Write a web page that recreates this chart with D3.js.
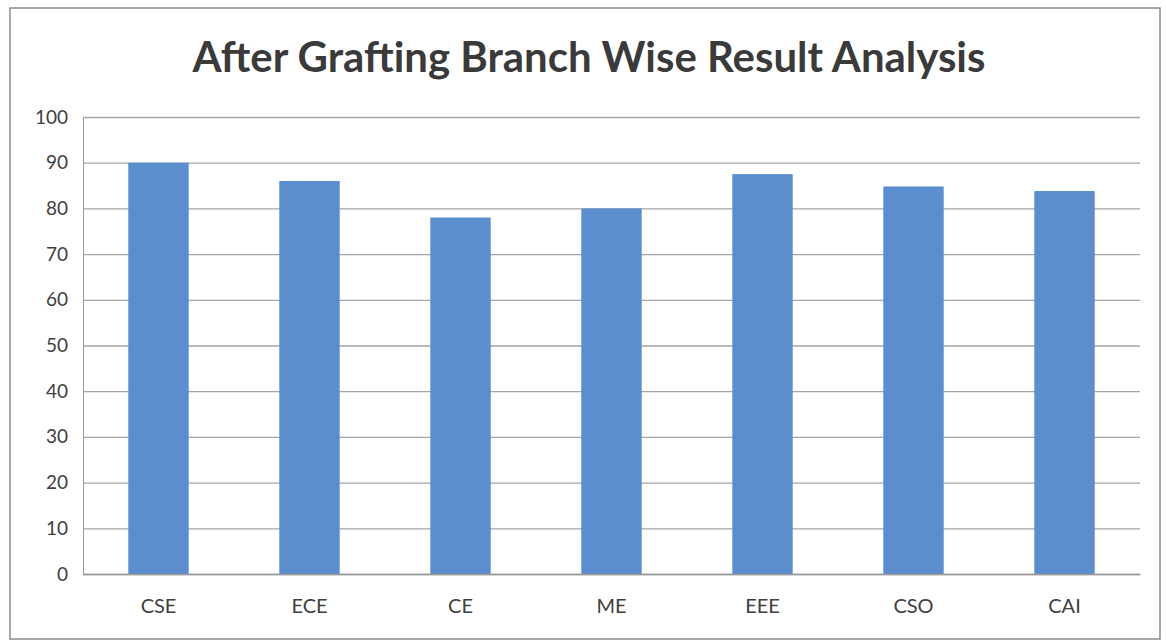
<!DOCTYPE html>
<html><head><meta charset="utf-8">
<script src="https://cdn.jsdelivr.net/npm/d3@7/dist/d3.min.js"></script>
<style>body{margin:0;background:#fff}svg{display:block}</style>
</head><body>
<svg id="c" width="1166" height="642"></svg>
<script>
const categories = ["CSE","ECE","CE","ME","EEE","CSO","CAI"];
const values = [90, 86, 78, 80, 87.5, 84.8, 83.8];
const yTicks = [0,10,20,30,40,50,60,70,80,90,100];
const title = "After Grafting Branch Wise Result Analysis";

const svg = d3.select("#c");
const m = {left: 83, right: 1140, top: 117, bottom: 574};

svg.append("rect").attr("x",10).attr("y",8).attr("width",1150).attr("height",631)
  .attr("fill","#fff").attr("stroke","#8a8a8a").attr("stroke-width",1.5);

const x = d3.scaleBand().domain(categories).range([m.left, m.right]).paddingInner(0.6).paddingOuter(0.3);
const y = d3.scaleLinear().domain([0,100]).range([m.bottom, m.top]);

// gridlines
const yAxis = d3.axisLeft(y).tickValues(yTicks).tickSize(-(m.right-m.left)).tickPadding(15);
const gy = svg.append("g").attr("transform",`translate(${m.left},0)`).call(yAxis);
gy.select(".domain").attr("stroke","#9a9a9a");
gy.selectAll(".tick line").attr("stroke","#a5a5a5").attr("stroke-width",1.3);
gy.selectAll(".tick text").attr("font-family","Lato, 'Open Sans', sans-serif").attr("font-size",19).attr("fill","#404040");

// bars
svg.append("g").selectAll("rect").data(values).join("rect")
  .attr("x",(d,i)=>x(categories[i]))
  .attr("y",d=>y(d))
  .attr("width",x.bandwidth())
  .attr("height",d=>y(0)-y(d))
  .attr("fill","#5a8ecf");

// x axis
const xAxis = d3.axisBottom(x).tickSize(0).tickPadding(25);
const gx = svg.append("g").attr("transform",`translate(0,${m.bottom})`).call(xAxis);
gx.select(".domain").attr("stroke","#9a9a9a").attr("stroke-width",1.3);
gx.selectAll(".tick text").attr("font-family","Lato, 'Open Sans', sans-serif").attr("font-size",20).attr("fill","#404040");

// title
const t = svg.append("text").attr("x",589).attr("y",72).attr("text-anchor","middle")
  .attr("font-family","Lato, 'Open Sans', sans-serif").attr("font-weight","bold")
  .attr("font-size",36).attr("fill","#3a3a3a").text(title);
const len = t.node().getComputedTextLength();
t.attr("font-size", 36*793/len);
</script>
</body></html>
